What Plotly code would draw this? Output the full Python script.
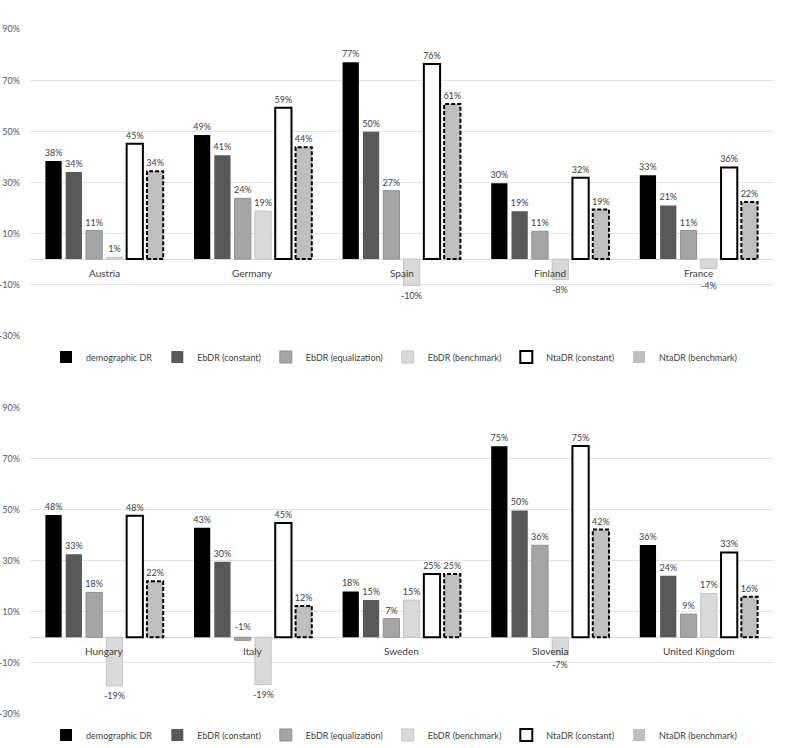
import plotly.graph_objects as go

# ---------------- data ----------------
countries_top = ["Austria", "Germany", "Spain", "Finland", "France"]
countries_bottom = ["Hungary", "Italy", "Sweden", "Slovenia", "United Kingdom"]
series_names = ["demographic DR", "EbDR (constant)", "EbDR (equalization)",
                "EbDR (benchmark)", "NtaDR (constant)", "NtaDR (benchmark)"]

top_demo = [0.384, 0.486, 0.771, 0.297, 0.328]
top_eb_const = [0.341, 0.407, 0.499, 0.187, 0.210]
top_eb_eq = [0.112, 0.238, 0.268, 0.109, 0.112]
top_eb_bench = [0.007, 0.188, -0.104, -0.080, -0.037]
top_nta_const = [0.452, 0.593, 0.764, 0.319, 0.359]
top_nta_bench = [0.344, 0.438, 0.607, 0.194, 0.224]

bot_demo = [0.480, 0.430, 0.180, 0.750, 0.362]
bot_eb_const = [0.326, 0.296, 0.146, 0.498, 0.242]
bot_eb_eq = [0.176, -0.012, 0.073, 0.361, 0.091]
bot_eb_bench = [-0.191, -0.186, 0.146, -0.069, 0.172]
bot_nta_const = [0.477, 0.449, 0.248, 0.751, 0.333]
bot_nta_bench = [0.220, 0.123, 0.248, 0.423, 0.159]

tick_vals = [-0.3, -0.1, 0.1, 0.3, 0.5, 0.7, 0.9]
tick_labels = ["-30%", "-10%", "10%", "30%", "50%", "70%", "90%"]

# ---------------- style ----------------
FONT = "Lato"
fills = ["#000000", "#595959", "#a5a5a5", "#d9d9d9", "#ffffff", "#bfbfbf"]
borders = ["#000000", "#595959", "#8f8f8f", "#c4c4c4", "#000000", "#bfbfbf"]
border_w = [0, 0, 1, 1, 2, 0]
LABEL_FONT = dict(family=FONT, size=9, color="#404040")
BARGAP = 0.18
BARGROUPGAP = 0.2
NEG_LABEL_FLOOR = -0.065   # keep negative labels clear of the country name
nser = len(series_names)
slot = (1 - BARGAP) / nser
bw = slot * (1 - BARGROUPGAP)
offsets = [-(1 - BARGAP) / 2 + k * slot + (slot - bw) / 2 for k in range(nser)]

W, H = 788, 748
x_dom = [30 / W, 773 / W]
top_dom = [1 - 335.7 / H, 1 - 29.3 / H]
bot_dom = [1 - 713.7 / H, 1 - 408 / H]

fig = go.Figure()


def pct(v):
    return f"{round(v * 100)}%"


def add_panel(countries, series, xa, ya, legend_name):
    xs = list(range(len(countries)))
    for k, (name, vals) in enumerate(zip(series_names, series)):
        positions = ["outside" if v >= 0 else "none" for v in vals]
        fig.add_trace(go.Bar(
            x=xs, y=vals, name=name, offset=offsets[k], width=bw,
            marker=dict(color=fills[k],
                        line=dict(color=borders[k], width=border_w[k])),
            text=[pct(v) for v in vals],
            textposition=positions, constraintext="none", cliponaxis=False,
            textfont=LABEL_FONT,
            xaxis=xa, yaxis=ya, legend=legend_name, legendgroup=legend_name + name,
            hoverinfo="skip",
        ))
        # labels of negative bars
        for i, v in zip(xs, vals):
            if v >= 0:
                continue
            xc = i + offsets[k] + bw / 2
            if v > -0.02:   # tiny negative bar: label sits above the axis
                fig.add_annotation(x=xc, y=0, xref=xa, yref=ya, text=pct(v),
                                   showarrow=False, yanchor="bottom", yshift=3,
                                   font=LABEL_FONT)
            else:
                fig.add_annotation(x=xc, y=min(v, NEG_LABEL_FLOOR), xref=xa, yref=ya,
                                   text=pct(v), showarrow=False, yanchor="top",
                                   yshift=-2, font=LABEL_FONT)
    # dashed outline for the NtaDR (benchmark) bars
    k = nser - 1
    ox, oy = [], []
    for i, v in zip(xs, series[k]):
        x0 = i + offsets[k]
        x1 = x0 + bw
        ox += [x0, x0, x1, x1, x0, None]
        oy += [0, v, v, 0, 0, None]
    fig.add_trace(go.Scatter(
        x=ox, y=oy, mode="lines", line=dict(color="#000000", width=2, dash="4px,2px"),
        xaxis=xa, yaxis=ya, showlegend=False, legend=legend_name,
        legendgroup=legend_name + series_names[k], hoverinfo="skip", cliponaxis=False,
    ))
    for i, c in zip(xs, countries):
        fig.add_annotation(x=i, y=0, xref=xa, yref=ya, text=c, showarrow=False,
                           yanchor="middle", yshift=-14,
                           font=dict(family=FONT, size=10, color="#404040"))


add_panel(countries_top,
          [top_demo, top_eb_const, top_eb_eq, top_eb_bench, top_nta_const, top_nta_bench],
          "x", "y", "legend")
add_panel(countries_bottom,
          [bot_demo, bot_eb_const, bot_eb_eq, bot_eb_bench, bot_nta_const, bot_nta_bench],
          "x2", "y2", "legend2")

xaxis_common = dict(range=[-0.5, 4.5], showticklabels=False, showgrid=False,
                    zeroline=False, showline=False, ticks="", fixedrange=True)
yaxis_common = dict(range=[-0.3, 0.9], tickvals=tick_vals, ticktext=tick_labels,
                    showgrid=True, gridcolor="#e3e3e3", gridwidth=1,
                    zeroline=True, zerolinecolor="#d9d9d9", zerolinewidth=1,
                    showline=False, ticks="", automargin=False, ticklabelstandoff=9,
                    fixedrange=True,
                    tickfont=dict(family=FONT, size=9, color="#595959"))

legend_common = dict(orientation="h", xanchor="center", x=0.5, yanchor="middle",
                     font=dict(family=FONT, size=9, color="#404040"),
                     bgcolor="rgba(0,0,0,0)", traceorder="normal",
                     itemwidth=30, tracegroupgap=0)

fig.update_layout(
    width=W, height=H,
    margin=dict(l=0, r=0, t=0, b=0, autoexpand=False),
    paper_bgcolor="white", plot_bgcolor="white",
    barmode="overlay",
    showlegend=True,
    xaxis=dict(domain=x_dom, anchor="y", **xaxis_common),
    yaxis=dict(domain=top_dom, anchor="x", **yaxis_common),
    xaxis2=dict(domain=x_dom, anchor="y2", **xaxis_common),
    yaxis2=dict(domain=bot_dom, anchor="x2", **yaxis_common),
    legend=dict(y=1 - 357 / H, **legend_common),
    legend2=dict(y=1 - 735 / H, **legend_common),
    font=dict(family=FONT),
)

# the page body has a default 8px margin; remove it so the chart sits at the page corner
fig.write_html("out.html", config={"displayModeBar": False},
               post_script="document.body.style.margin='0';")
